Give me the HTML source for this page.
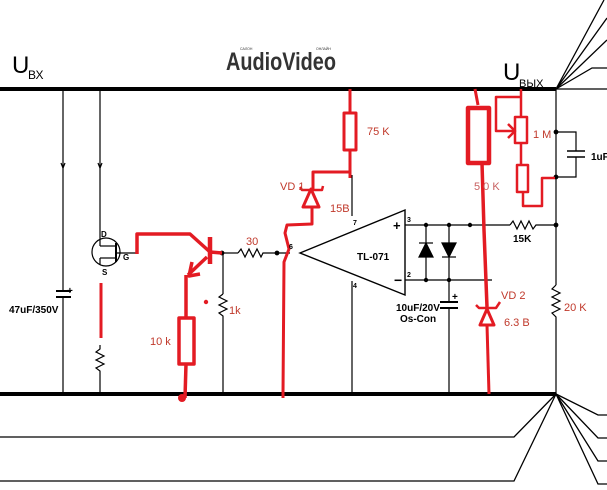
<!DOCTYPE html>
<html><head><meta charset="utf-8"><style>
html,body{margin:0;padding:0;background:#fff;}
svg{display:block;}
text{font-family:"Liberation Sans","DejaVu Sans",sans-serif;}
</style></head><body>
<svg width="607" height="490" viewBox="0 0 607 490" xmlns="http://www.w3.org/2000/svg">
<rect width="607" height="490" fill="#fff"/>
<g stroke="#000" fill="none">
<line x1="0" y1="89" x2="556" y2="89" stroke-width="4"/>
<line x1="0" y1="394" x2="556" y2="394" stroke-width="4"/>
<line x1="556" y1="89" x2="604" y2="0" stroke-width="1.3"/>
<line x1="556" y1="89" x2="607" y2="18" stroke-width="1.3"/>
<line x1="556" y1="89" x2="607" y2="40" stroke-width="1.3"/>
<polyline points="556,89 592,68 607,68" stroke-width="1.3"/>
<line x1="556" y1="89" x2="607" y2="89" stroke-width="1.3"/>
<polyline points="556,394 514,437 0,437" stroke-width="1.3"/>
<polyline points="556,394 514,481 0,481" stroke-width="1.3"/>
<polyline points="556,394 598,415 607,415" stroke-width="1.3"/>
<polyline points="556,394 598,438 607,438" stroke-width="1.3"/>
<polyline points="556,394 598,461 607,461" stroke-width="1.3"/>
<polyline points="556,394 598,484 607,484" stroke-width="1.3"/>
<g stroke-width="1.2">
<line x1="63" y1="89" x2="63" y2="291"/>
<line x1="63" y1="297" x2="63" y2="394"/>
<line x1="56" y1="291" x2="71" y2="291" stroke-width="2"/>
<line x1="56" y1="297" x2="71" y2="297" stroke-width="2"/>
<polyline points="61,163 63,168 65,163"/>
<line x1="100" y1="89" x2="100" y2="238"/>
<polyline points="98,163 100,168 102,163"/>
<circle cx="106" cy="252" r="14"/>
<line x1="100" y1="238" x2="100" y2="246"/><line x1="100" y1="246" x2="115" y2="246"/>
<line x1="100" y1="258" x2="115" y2="258"/><line x1="100" y1="258" x2="100" y2="265"/>
<line x1="116" y1="243" x2="116" y2="262" stroke-width="2"/>
<line x1="116" y1="253" x2="137" y2="253"/>
<polyline points="100,345 100,349 96,352 104,356 96,360 104,364 96,368 100,371 100,394"/>
<line x1="222" y1="253" x2="238" y2="253"/>
<polyline points="238,253 241,249 245,257 249,249 253,257 257,249 261,257 263,253 290,253"/>
<circle cx="222" cy="253" r="1.8" fill="#000"/>
<circle cx="277" cy="253" r="1.8" fill="#000"/>
<line x1="223" y1="253" x2="223" y2="294"/>
<polyline points="223,294 219,297 227,301 219,305 227,309 219,313 223,316 223,394"/>
<line x1="352" y1="175" x2="352" y2="216"/>
<line x1="352" y1="281" x2="352" y2="394"/>
<polygon points="300,253 405,210 405,295" stroke-width="1.4"/>
<line x1="405" y1="225" x2="510" y2="225"/>
<polyline points="510,225 513,221 517,229 521,221 525,229 529,221 533,229 536,225 556,225"/>
<line x1="405" y1="280" x2="492" y2="280"/>
<line x1="426" y1="225" x2="426" y2="280"/>
<polygon points="426,243 419,257 433,257" fill="#000"/><line x1="419" y1="243" x2="433" y2="243"/>
<line x1="449" y1="225" x2="449" y2="302"/>
<polygon points="449,257 442,243 456,243" fill="#000"/><line x1="442" y1="257" x2="456" y2="257"/>
<line x1="440" y1="302" x2="458" y2="302" stroke-width="2"/>
<line x1="440" y1="308" x2="458" y2="308" stroke-width="2"/>
<line x1="449" y1="308" x2="449" y2="394"/>
<circle cx="426" cy="225" r="1.6" fill="#000"/><circle cx="449" cy="225" r="1.6" fill="#000"/><circle cx="470" cy="225" r="1.6" fill="#000"/>
<circle cx="426" cy="280" r="1.6" fill="#000"/><circle cx="449" cy="280" r="1.6" fill="#000"/>
<circle cx="556" cy="225" r="1.8" fill="#000"/>
<line x1="556" y1="89" x2="556" y2="285"/>
<polyline points="556,285 552,289 560,293 552,297 560,301 552,305 560,309 552,313 556,317 556,394"/>
<circle cx="556" cy="132" r="1.8" fill="#000"/>
<polyline points="556,132 576,132 576,151"/>
<line x1="567" y1="151" x2="585" y2="151" stroke-width="1.6"/>
<line x1="567" y1="157" x2="585" y2="157" stroke-width="1.6"/>
<polyline points="576,157 576,177 556,177"/>
<circle cx="556" cy="177" r="1.8" fill="#000"/>
</g>
</g>
<g stroke="#e31b23" fill="none" stroke-width="3.5" stroke-linejoin="round">
<line x1="101" y1="283" x2="101" y2="338" stroke-width="3"/>
<polyline points="137,254 137,234 190,234 210,252 222,253"/>
<line x1="210" y1="237" x2="210" y2="264" stroke-width="4.5"/>
<line x1="207" y1="257" x2="188" y2="275"/>
<polyline points="192,262 189,276 200,274"/>
<line x1="186" y1="275" x2="186" y2="318"/>
<rect x="179" y="318" width="15" height="46"/>
<line x1="186" y1="364" x2="185" y2="398"/>
<polyline points="283,394 284,262 289,249 285,233 287,225 312,224 312,207" stroke-width="3"/>
<polygon points="311,189 303,207 319,207" stroke-width="3"/>
<polyline points="300,187 302,190 322,190 323,186" stroke-width="2.5"/>
<polyline points="313,189 313,172 350,172" stroke-width="3"/>
<line x1="350" y1="89" x2="350" y2="113" stroke-width="3"/>
<rect x="344" y="113" width="12" height="37" stroke-width="3"/>
<line x1="350" y1="150" x2="350" y2="178" stroke-width="3"/>
<polyline points="475,89 478,105" stroke-width="3"/>
<rect x="468" y="108" width="21" height="55" stroke-width="4.5"/>
<polyline points="482,163 484,230 487,307" stroke-width="3.5"/>
<polygon points="487,309 480,325 494,325" stroke-width="3"/>
<polyline points="476,305 479,308 496,308 500,302" stroke-width="2.5"/>
<line x1="487" y1="325" x2="489" y2="394" stroke-width="3"/>
<line x1="521" y1="89" x2="521" y2="117" stroke-width="2.5"/>
<rect x="515" y="117" width="12" height="26" stroke-width="2.5"/>
<polyline points="521,97 496,97 496,131 514,131" stroke-width="2.5"/>
<polyline points="508,124 515,131 508,138" stroke-width="2.5"/>
<line x1="521" y1="143" x2="521" y2="165" stroke-width="2.5"/>
<rect x="517" y="165" width="11" height="27" stroke-width="2.5"/>
<polyline points="523,192 523,206 542,206 542,178 555,178" stroke-width="2.5"/>
<line x1="283" y1="390" x2="283" y2="398" stroke-width="3"/>
</g>
<circle cx="182" cy="398" r="4" fill="#e31b23"/>
<circle cx="206" cy="302" r="2.2" fill="#e31b23"/>
<g fill="#000">
<text x="12" y="73" font-size="24">U</text><text x="28" y="79" font-size="12">ВХ</text>
<text x="503" y="80" font-size="24">U</text><text x="519" y="87" font-size="11">ВЫХ</text>
<text x="9" y="313" font-size="10" font-weight="bold">47uF/350V</text>
<text x="67" y="294" font-size="10" font-weight="bold">+</text>
<text x="101" y="237" font-size="8" font-weight="bold">D</text>
<text x="102" y="275" font-size="8" font-weight="bold">S</text>
<text x="123" y="260" font-size="8" font-weight="bold">G</text>
<text x="357" y="260" font-size="10" font-weight="bold">TL-071</text>
<text x="393" y="230" font-size="13" font-weight="bold">+</text>
<text x="394" y="285" font-size="14" font-weight="bold">−</text>
<text x="407" y="222" font-size="7" font-weight="bold">3</text>
<text x="407" y="277" font-size="7" font-weight="bold">2</text>
<text x="353" y="225" font-size="7" font-weight="bold">7</text>
<text x="353" y="288" font-size="7" font-weight="bold">4</text>
<text x="289" y="249" font-size="7" font-weight="bold">6</text>
<text x="452" y="300" font-size="10" font-weight="bold">+</text>
<text x="396" y="311" font-size="10" font-weight="bold">10uF/20V</text>
<text x="400" y="322" font-size="10" font-weight="bold">Os-Con</text>
<text x="513" y="242" font-size="10" font-weight="bold">15K</text>
<text x="591" y="160" font-size="10" font-weight="bold">1uF</text>
<text x="226" y="70" font-size="25" font-weight="bold" fill="#333" textLength="110" lengthAdjust="spacingAndGlyphs">AudioVideo</text>
<text x="240" y="50" font-size="3.5" fill="#333">САЛОН</text>
<text x="316" y="50" font-size="3.5" fill="#333">ОНЛАЙН</text>
</g>
<g fill="#c0392b" font-size="11">
<text x="246" y="245">30</text>
<text x="229" y="314">1k</text>
<text x="150" y="345">10 k</text>
<text x="367" y="135">75 K</text>
<text x="280" y="190">VD 1</text>
<text x="330" y="212">15B</text>
<text x="474" y="190" fill="#c86060">5 0 K</text>
<text x="533" y="138">1 M</text>
<text x="501" y="299">VD 2</text>
<text x="504" y="326">6.3 B</text>
<text x="564" y="311">20 K</text>
</g>
</svg>
</body></html>
